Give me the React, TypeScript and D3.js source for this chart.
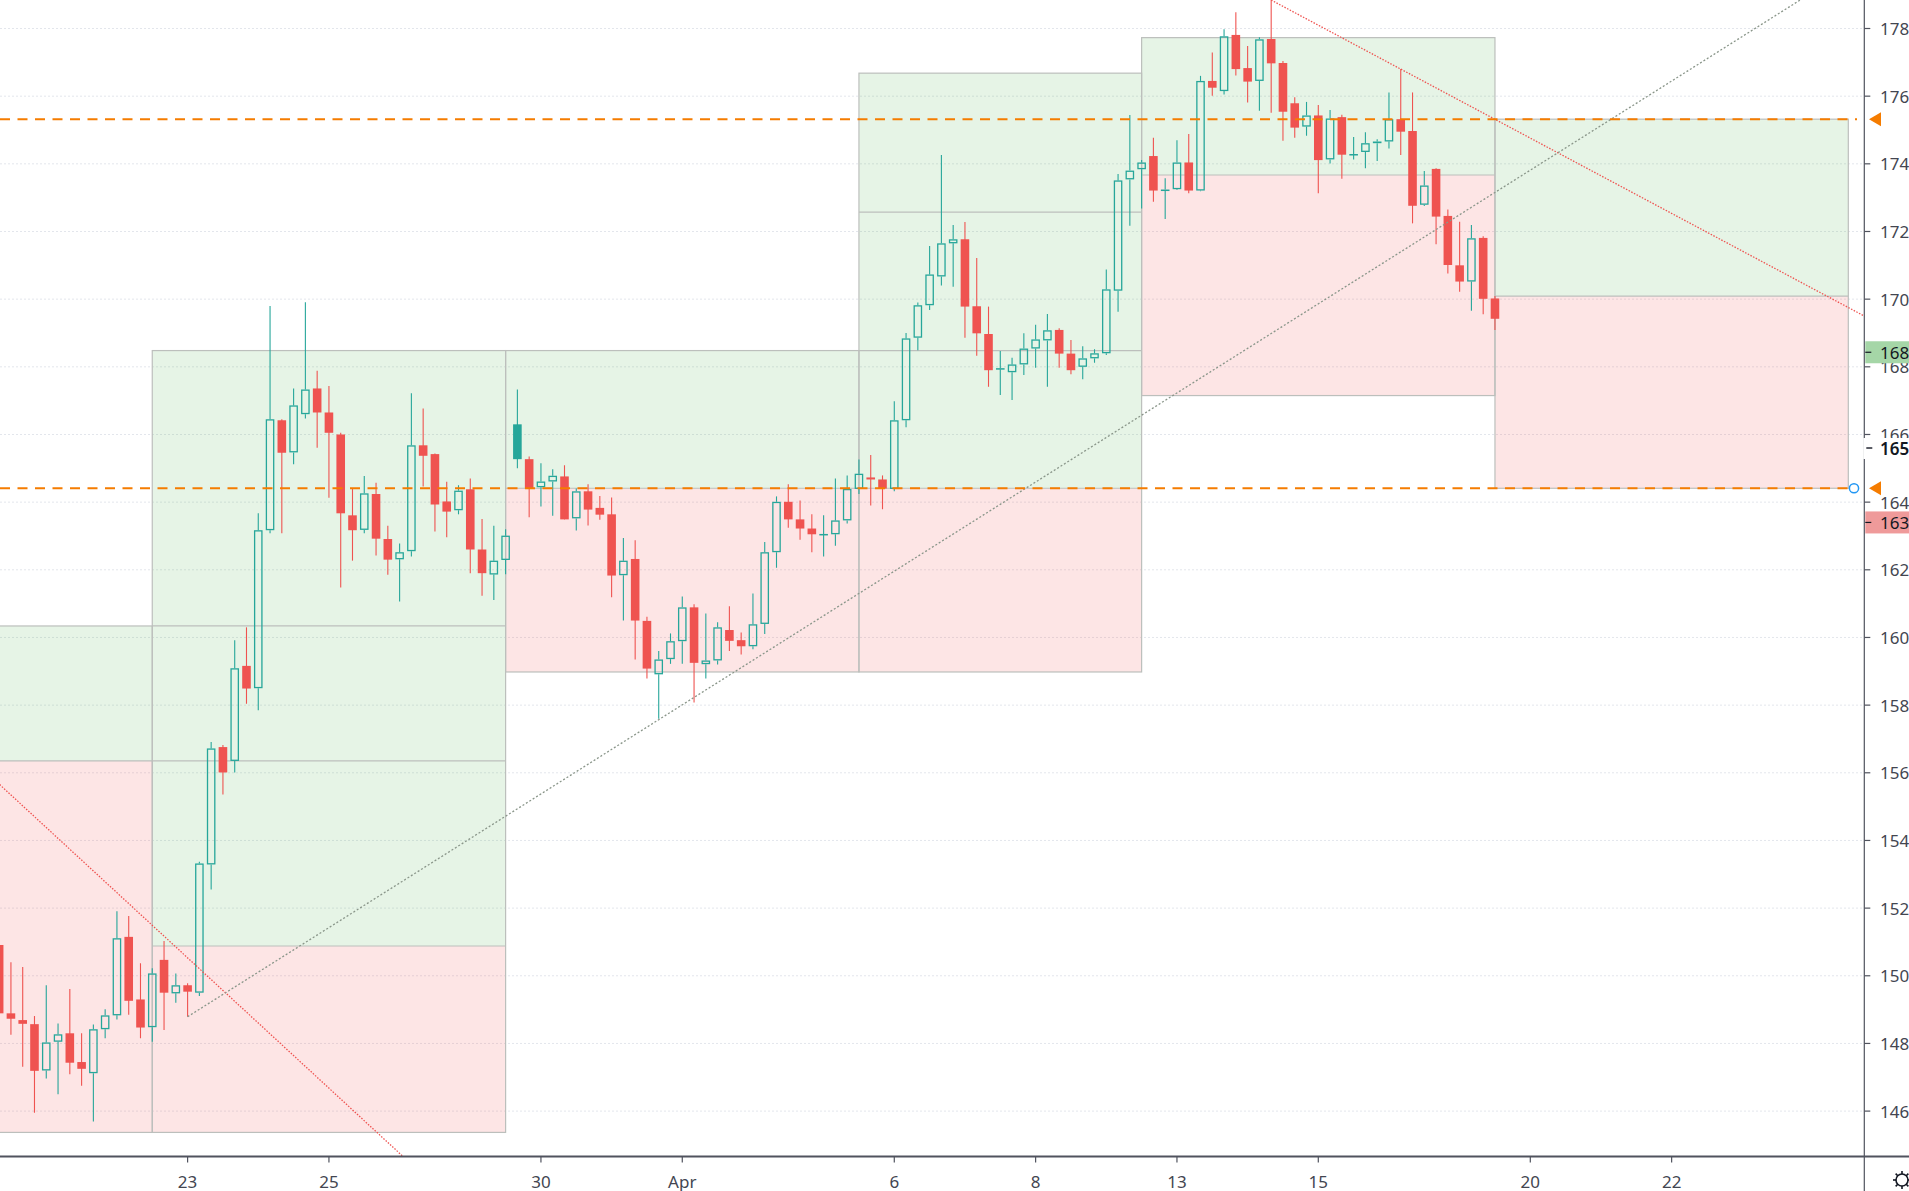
import React from 'react';
import * as d3 from 'd3';

// 4h bars, index 0 = first bar labelled "23" (Mar 23); bars before it are negative
const FIRST_BAR = -16;
// [open, high, low, close]
const ohlc: [number, number, number, number][] = [
  [1509.1, 1511.0, 1486.0, 1488.9], [1488.9, 1504.0, 1482.6, 1487.3], [1486.9, 1502.6, 1473.1, 1485.8],
  [1485.7, 1488.1, 1459.5, 1471.9], [1472.0, 1497.2, 1469.6, 1480.3], [1480.5, 1485.9, 1465.0, 1482.7],
  [1483.0, 1496.1, 1470.9, 1474.3], [1474.5, 1483.0, 1467.5, 1472.5], [1471.2, 1485.6, 1456.9, 1484.2],
  [1484.2, 1490.1, 1481.5, 1488.3], [1488.3, 1519.1, 1487.1, 1511.1], [1511.5, 1517.7, 1488.5, 1492.6],
  [1493.0, 1503.7, 1481.5, 1484.7], [1484.8, 1502.2, 1480.5, 1500.7], [1504.7, 1510.3, 1484.0, 1495.0],
  [1494.8, 1500.7, 1492.0, 1497.2],
  // Mar 23
  [1497.2, 1497.8, 1487.9, 1495.3], [1495.0, 1533.7, 1494.0, 1533.2], [1532.9, 1569.1, 1525.5, 1567.2],
  [1567.6, 1568.2, 1553.6, 1560.1], [1563.5, 1599.2, 1560.1, 1590.9], [1591.6, 1603.0, 1580.4, 1584.9],
  [1585.0, 1636.7, 1578.5, 1631.7], [1631.7, 1698.0, 1630.8, 1664.5], [1664.2, 1664.5, 1630.8, 1654.6],
  [1654.7, 1673.6, 1651.2, 1668.6], [1666.0, 1699.1, 1664.7, 1673.3], [1673.6, 1678.8, 1656.1, 1666.5],
  // Mar 25
  [1666.5, 1674.3, 1641.3, 1660.5], [1660.0, 1660.5, 1614.8, 1636.7], [1636.1, 1644.1, 1622.7, 1631.7],
  [1631.8, 1647.7, 1630.8, 1642.6], [1642.4, 1645.7, 1624.2, 1629.2], [1629.1, 1633.0, 1618.5, 1623.0],
  [1623.1, 1627.8, 1610.6, 1625.2], [1625.5, 1672.2, 1623.9, 1656.8], [1656.8, 1667.7, 1644.6, 1653.7],
  [1654.2, 1654.4, 1631.3, 1639.3], [1640.2, 1646.0, 1629.6, 1637.2], [1637.6, 1645.0, 1636.4, 1643.4],
  [1643.8, 1647.0, 1619.0, 1626.0], [1626.0, 1635.0, 1612.3, 1619.0], [1618.6, 1633.0, 1611.1, 1622.7],
  [1622.9, 1632.0, 1618.7, 1630.1],
  // week of Mar 30
  [1663.0, 1673.3, 1650.0, 1652.7], [1652.7, 1653.5, 1635.5, 1644.0], [1644.4, 1651.5, 1638.7, 1646.1],
  [1646.1, 1649.7, 1636.0, 1647.8], [1647.6, 1650.9, 1634.9, 1634.9], [1635.2, 1644.0, 1631.6, 1643.2],
  [1643.2, 1645.3, 1633.1, 1637.8], [1638.3, 1641.8, 1634.8, 1636.3], [1636.4, 1641.4, 1611.9, 1618.3],
  [1618.4, 1629.4, 1605.0, 1622.7], [1623.2, 1628.7, 1593.5, 1605.0], [1604.9, 1606.1, 1587.9, 1590.8],
  [1589.1, 1596.0, 1576.0, 1593.5], [1593.6, 1601.2, 1592.2, 1598.9], [1598.9, 1612.1, 1592.2, 1608.9],
  [1608.9, 1609.8, 1580.8, 1592.5], [1592.1, 1607.1, 1587.9, 1593.2], [1593.2, 1604.5, 1592.0, 1603.0],
  [1602.2, 1609.2, 1596.0, 1599.0], [1599.2, 1601.5, 1595.0, 1597.4], [1597.4, 1613.0, 1596.5, 1603.9],
  [1604.0, 1628.2, 1601.0, 1625.2], [1625.2, 1641.7, 1620.6, 1640.1], [1640.1, 1645.3, 1632.4, 1634.9],
  [1634.9, 1640.5, 1628.9, 1632.2], [1632.2, 1636.4, 1625.2, 1630.5], [1630.4, 1636.1, 1623.9, 1630.6],
  [1630.5, 1647.0, 1627.1, 1634.6], [1634.6, 1647.9, 1633.7, 1643.9], [1643.9, 1652.6, 1642.4, 1648.4],
  // week of Apr 6
  [1647.3, 1653.9, 1639.0, 1646.7], [1646.7, 1647.9, 1637.9, 1644.0], [1643.9, 1669.8, 1643.2, 1664.2],
  [1664.2, 1690.0, 1662.1, 1688.4], [1688.6, 1699.0, 1684.9, 1698.2], [1698.2, 1715.7, 1696.8, 1707.3],
  [1706.7, 1742.6, 1704.0, 1716.5], [1716.5, 1721.9, 1703.7, 1717.7], [1717.7, 1722.8, 1688.6, 1697.8],
  [1697.9, 1712.2, 1683.3, 1689.9], [1689.7, 1697.8, 1674.1, 1679.0], [1679.3, 1684.7, 1671.7, 1679.6],
  [1678.4, 1682.7, 1670.2, 1680.7], [1680.7, 1689.9, 1677.6, 1685.4], [1685.4, 1692.4, 1679.7, 1688.1],
  [1687.8, 1695.6, 1674.1, 1690.8], [1690.9, 1691.4, 1679.7, 1683.9], [1683.9, 1687.9, 1677.8, 1679.0],
  [1680.0, 1686.1, 1676.3, 1682.5], [1682.5, 1685.2, 1681.2, 1684.0], [1684.0, 1708.8, 1683.5, 1702.9],
  [1702.5, 1737.0, 1696.3, 1735.1], [1735.4, 1754.4, 1721.7, 1738.0], [1738.4, 1741.1, 1726.8, 1740.4],
  // week of Apr 13
  [1742.3, 1747.7, 1728.8, 1732.1], [1732.1, 1735.7, 1723.7, 1732.4], [1732.5, 1747.0, 1732.3, 1740.4],
  [1740.4, 1748.8, 1731.3, 1732.1], [1732.1, 1766.0, 1731.9, 1764.5], [1764.5, 1772.9, 1760.1, 1762.5],
  [1761.5, 1779.8, 1760.5, 1777.7], [1778.1, 1784.8, 1766.1, 1768.0], [1768.3, 1774.8, 1758.1, 1764.3],
  [1764.5, 1777.4, 1755.7, 1776.8], [1776.9, 1790.0, 1755.1, 1769.7], [1769.8, 1770.4, 1746.8, 1755.4],
  [1757.9, 1759.7, 1747.7, 1750.7], [1751.0, 1758.3, 1748.3, 1754.3], [1754.3, 1757.4, 1731.3, 1741.1],
  [1741.3, 1755.9, 1740.1, 1753.4], [1753.8, 1754.5, 1735.6, 1742.7], [1742.7, 1747.9, 1741.3, 1742.9],
  [1743.5, 1749.3, 1738.7, 1746.1], [1746.1, 1747.3, 1740.8, 1746.6], [1746.6, 1761.1, 1744.5, 1753.2],
  [1753.2, 1768.0, 1742.6, 1749.5], [1749.7, 1761.1, 1722.4, 1727.6], [1727.9, 1737.9, 1727.5, 1733.6],
  [1738.5, 1738.7, 1716.2, 1724.4], [1724.6, 1726.5, 1707.6, 1710.1], [1710.0, 1722.9, 1702.2, 1705.2],
  [1705.2, 1721.9, 1696.6, 1718.0], [1718.1, 1718.6, 1695.5, 1700.1], [1700.2, 1700.9, 1690.9, 1694.2],
];

const dateLabels = ['23', '25', '30', 'Apr', '6', '8', '13', '15', '20', '22'];
const dateBars = [0, 12, 30, 42, 60, 72, 84, 96, 114, 126];

const priceTicks = [1460, 1480, 1500, 1520, 1540, 1560, 1580, 1600, 1620, 1640, 1660, 1680, 1700, 1720, 1740, 1760, 1780];

// long position tools: bar range, target, entry, stop
const positions = [
  { from: -22, to: -3, target: 1603.4, entry: 1563.5, stop: 1453.7 },
  { from: -3, to: 27, target: 1684.8, entry: 1508.8, stop: 1453.7 },
  { from: 27, to: 57, target: 1684.8, entry: 1644.1, stop: 1589.8 },
  { from: 57, to: 81, target: 1766.8, entry: 1644.1, stop: 1589.8 },
  { from: 81, to: 111, target: 1777.3, entry: 1736.7, stop: 1671.5 },
  { from: 111, to: 141, target: 1753.2, entry: 1700.9, stop: 1644.1 },
];
const innerLines = [
  { from: -3, to: 27, price: 1603.4 },
  { from: -3, to: 27, price: 1563.5 },
  { from: 57, to: 81, price: 1725.7 },
  { from: 57, to: 81, price: 1684.8 },
];

// trend lines as two anchors [bar, price]
const downLineLeft: [number, number][] = [[-20, 1569.5], [20, 1441.1]];
const downLineRight: [number, number][] = [[92, 1788.4], [103, 1768.0]];
const upRay: [number, number][] = [[0, 1487.9], [100, 1707.4]];

const levels = [1753.2, 1644.1];
const greenTag = 1684.3;
const redTag = 1634;
const crossTag = 1656;

const W = 1909;
const H = 1191;
const PLOT_R = 1864.3;
const PLOT_B = 1156.5;
const TEAL = '#26a69a';
const RED = '#ef5350';
const AXIS = '#50535e';
const FONT = '"Noto Sans", "Open Sans", sans-serif';

const x = d3.scaleLinear().domain([0, 114]).range([187.6, 1530.3]);
const y = d3.scaleLinear().domain([1460, 1780]).range([1111.1, 28.5]);

const extendTo = (pts: [number, number][], bar: number) => {
  const [[b0, p0], [b1, p1]] = pts;
  return p0 + ((p1 - p0) / (b1 - b0)) * (bar - b0);
};

const Candles: React.FC = () => {
  const bw = 8.6;
  const sw = 1.3;
  return (
    <g>
      {ohlc.map(([o, h, l, c], k) => {
        const i = FIRST_BAR + k;
        const prev = k > 0 ? ohlc[k - 1][3] : o;
        const color = c >= prev ? TEAL : RED;
        const cx = x(i);
        const top = y(Math.max(o, c));
        const bot = y(Math.min(o, c));
        if (c < o) {
          return (
            <g key={i}>
              <line x1={cx} x2={cx} y1={y(h)} y2={y(l)} stroke={color} strokeWidth={1.1} />
              <rect x={cx - bw / 2} y={top} width={bw} height={Math.max(bot - top, 1)} fill={color} />
            </g>
          );
        }
        return (
          <g key={i}>
            <line x1={cx} x2={cx} y1={y(h)} y2={top} stroke={color} strokeWidth={1.1} />
            <line x1={cx} x2={cx} y1={bot} y2={y(l)} stroke={color} strokeWidth={1.1} />
            <rect
              x={cx - bw / 2 + sw / 2}
              y={top + sw / 2}
              width={bw - sw}
              height={Math.max(bot - top - sw, 0.2)}
              fill="none"
              stroke={color}
              strokeWidth={sw}
            />
          </g>
        );
      })}
    </g>
  );
};

const App: React.FC = () => {
  const farLeft = -30;
  const farRight = 160;
  return (
    <svg
      width={W}
      height={H}
      viewBox={`0 0 ${W} ${H}`}
      style={{ position: 'absolute', left: 0, top: 0, background: '#fff', fontFamily: FONT }}
    >
      <defs>
        <clipPath id="plot">
          <rect x={0} y={0} width={PLOT_R} height={PLOT_B} />
        </clipPath>
      </defs>

      <g clipPath="url(#plot)">
        {priceTicks.map((p) => (
          <line key={p} x1={0} x2={PLOT_R} y1={y(p)} y2={y(p)} stroke="#e3e6ec" strokeDasharray="2 2" />
        ))}

        {positions.map((d, k) => (
          <g key={k}>
            <rect x={x(d.from)} y={y(d.target)} width={x(d.to) - x(d.from)} height={y(d.entry) - y(d.target)}
              fill="rgba(76,175,80,0.14)" />
            <rect x={x(d.from)} y={y(d.entry)} width={x(d.to) - x(d.from)} height={y(d.stop) - y(d.entry)}
              fill="rgba(239,83,80,0.15)" />
          </g>
        ))}
        {positions.map((d, k) => (
          <g key={k} stroke="#bcbfbc" strokeWidth={1.2} fill="none">
            <rect x={x(d.from)} y={y(d.target)} width={x(d.to) - x(d.from)} height={y(d.stop) - y(d.target)} />
            <line x1={x(d.from)} x2={x(d.to)} y1={y(d.entry)} y2={y(d.entry)} />
          </g>
        ))}
        {innerLines.map((d, k) => (
          <line key={k} x1={x(d.from)} x2={x(d.to)} y1={y(d.price)} y2={y(d.price)} stroke="#bcbfbc" strokeWidth={1.2} />
        ))}

        <Candles />

        <line
          x1={x(farLeft)} y1={y(extendTo(downLineLeft, farLeft))}
          x2={x(downLineLeft[1][0])} y2={y(downLineLeft[1][1])}
          stroke={RED} strokeWidth={1.3} strokeDasharray="1.5 1.5"
        />
        <line
          x1={x(downLineRight[0][0])} y1={y(downLineRight[0][1])}
          x2={x(farRight)} y2={y(extendTo(downLineRight, farRight))}
          stroke={RED} strokeWidth={1.3} strokeDasharray="1.5 1.5"
        />
        <line
          x1={x(upRay[0][0])} y1={y(upRay[0][1])}
          x2={x(farRight)} y2={y(extendTo(upRay, farRight))}
          stroke="#8a968a" strokeWidth={1.3} strokeDasharray="2 2"
        />

        {levels.map((p) => (
          <line key={p} x1={0} x2={1857} y1={y(p)} y2={y(p)} stroke="#f57c00" strokeWidth={2} strokeDasharray="10 7.5" />
        ))}
        <circle cx={1854} cy={y(levels[1])} r={4.6} fill="#fff" stroke="#2196f3" strokeWidth={1.5} />
      </g>

      {/* price axis */}
      <line x1={PLOT_R} x2={PLOT_R} y1={0} y2={H} stroke={AXIS} strokeWidth={1.2} />
      {priceTicks.map((p) => (
        <g key={p}>
          <line x1={PLOT_R} x2={PLOT_R + 6} y1={y(p)} y2={y(p)} stroke={AXIS} strokeWidth={1.2} />
          <text x={1880} y={y(p)} dominantBaseline="central" fontSize={17} fill="#434651">{p}</text>
        </g>
      ))}
      {levels.map((p) => (
        <path key={p} d={`M1869,${y(p)} L1881,${y(p) - 7} L1881,${y(p) + 7} Z`} fill="#f57c00" />
      ))}

      <rect x={PLOT_R - 1} y={y(crossTag) - 10} width={W - PLOT_R + 1} height={21} fill="#fff" />
      <line x1={PLOT_R + 2} x2={PLOT_R + 8} y1={y(crossTag)} y2={y(crossTag)} stroke="#131722" strokeWidth={1.4} />
      <text x={1880} y={y(crossTag)} dominantBaseline="central" fontSize={17} fontWeight={600} fill="#131722">1650</text>

      <rect x={PLOT_R + 1} y={y(greenTag) - 11} width={W - PLOT_R} height={22} fill="#a5d6a7" />
      <line x1={PLOT_R + 1} x2={PLOT_R + 7} y1={y(greenTag)} y2={y(greenTag)} stroke="#131722" strokeWidth={1.2} />
      <text x={1880} y={y(greenTag)} dominantBaseline="central" fontSize={17} fill="#131722">{Math.floor(greenTag)}</text>

      <rect x={PLOT_R + 1} y={y(redTag) - 11} width={W - PLOT_R} height={22} fill="#ef9a9a" />
      <line x1={PLOT_R + 1} x2={PLOT_R + 7} y1={y(redTag)} y2={y(redTag)} stroke="#131722" strokeWidth={1.2} />
      <text x={1880} y={y(redTag)} dominantBaseline="central" fontSize={17} fill="#131722">{redTag}</text>

      {/* time axis */}
      <line x1={0} x2={W} y1={PLOT_B} y2={PLOT_B} stroke={AXIS} strokeWidth={2} />
      {dateLabels.map((t, k) => (
        <g key={t}>
          <line x1={x(dateBars[k])} x2={x(dateBars[k])} y1={PLOT_B} y2={PLOT_B + 6} stroke={AXIS} strokeWidth={1.2} />
          <text x={x(dateBars[k])} y={1181} textAnchor="middle" dominantBaseline="central" fontSize={17} fill="#434651">
            {t}
          </text>
        </g>
      ))}

      {/* settings gear */}
      <g transform="translate(1902,1180)" stroke="#131722" strokeWidth={1.6} fill="none">
        <circle r={6} />
        {d3.range(8).map((k) => {
          const a = (k * Math.PI) / 4;
          return <line key={k} x1={Math.cos(a) * 6} y1={Math.sin(a) * 6} x2={Math.cos(a) * 9} y2={Math.sin(a) * 9} />;
        })}
      </g>
    </svg>
  );
};

export default App;
